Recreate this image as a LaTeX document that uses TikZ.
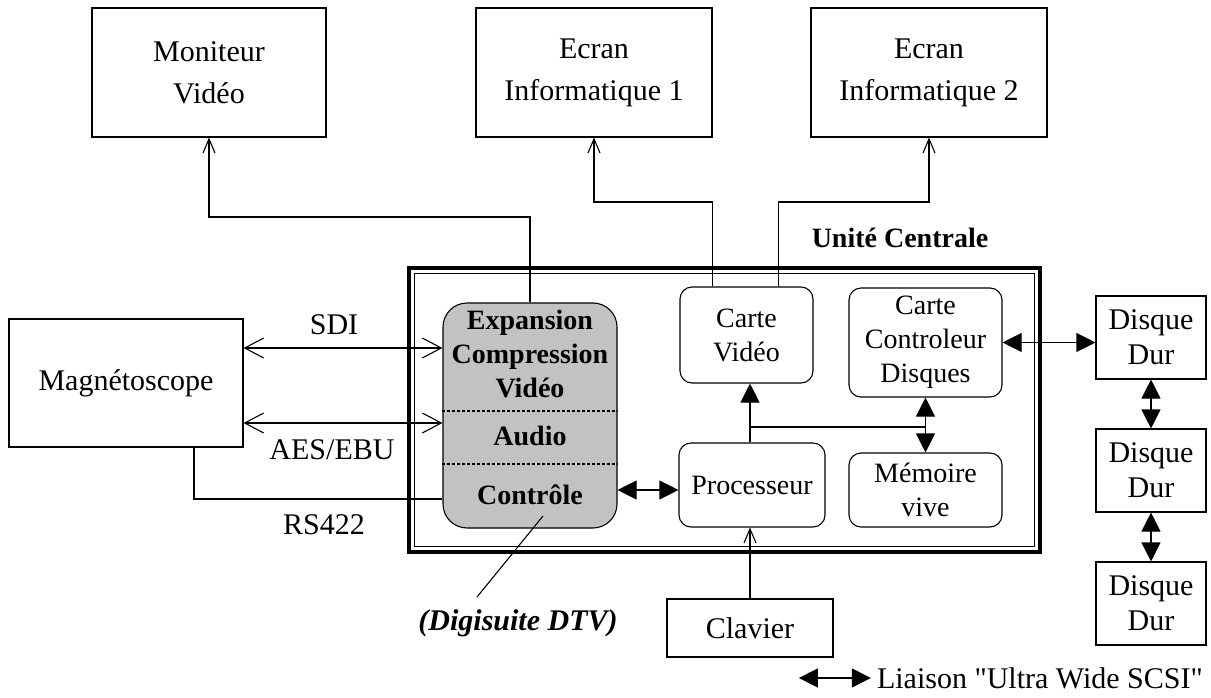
\documentclass[tikz,border=0pt]{standalone}
\usepackage{fontspec}
\setmainfont{Liberation Serif}
\newfontfamily\plainserif{Liberation Serif}
\usetikzlibrary{arrows.meta,calc}
\begin{document}
\begin{tikzpicture}[x=1pt,y=-1pt,
  every node/.style={font=\fontsize{30}{42}\selectfont, align=center, inner sep=0pt},
  box/.style={draw, line width=1.1pt},
  rbox/.style={draw, line width=1.1pt, rounded corners=12pt, font=\fontsize{28}{34}\selectfont},
  diskbox/.style={box, font=\fontsize{30}{35}\selectfont},
  wire/.style={line width=1.1pt},
  openhead/.style={wire, -{Straight Barb[length=14pt,width=12pt]}},
  openboth/.style={wire, {Straight Barb[length=19pt,width=20pt]}-{Straight Barb[length=19pt,width=20pt]}},
  fillhead/.style={wire, -{Triangle[length=19pt,width=19pt]}},
  fillboth/.style={wire, {Triangle[length=19pt,width=19pt]}-{Triangle[length=19pt,width=19pt]}},
  ucframe/.style={draw, line width=4.5pt},
  ucinner/.style={draw, line width=1.1pt},
  digi/.style={draw, line width=1.1pt, rounded corners=24pt, fill=black!24},
  digitext/.style={font=\fontsize{28}{34}\selectfont\bfseries}
]
\useasboundingbox (0,0) rectangle (1211,698);

% top row: displays
\node[box, minimum width=234pt, minimum height=129pt] (mon) at (209,72.5) {Moniteur\\Vidéo};
\node[box, minimum width=236pt, minimum height=129pt] (e1) at (594,72.5) {Ecran\\Informatique 1};
\node[box, minimum width=236pt, minimum height=129pt] (e2) at (929,72.5) {Ecran\\Informatique 2};

% video recorder
\node[box, minimum width=234pt, minimum height=128pt] (mag) at (126,383) {Magnétoscope};

% central unit frame (heavy outer line with a thin inner line) and its title
\node[ucframe, minimum width=631pt, minimum height=284pt] (uc) at (724.5,410) {};
\node[ucinner, minimum width=620pt, minimum height=273pt] (ucin) at (724.5,410) {};
\node[font=\fontsize{28}{34}\selectfont\bfseries] (uctitle) at (900,238) {Unité Centrale};

% Digisuite board with its three sections
\node[digi, minimum width=174pt, minimum height=225pt] (dig) at (530,415.5) {};
\draw[wire, dash pattern=on 3pt off 2pt] (dig.west |- 0,411) -- (dig.east |- 0,411);
\draw[wire, dash pattern=on 3pt off 2pt] (dig.west |- 0,464) -- (dig.east |- 0,464);
\node[digitext] (dvid) at (530,354) {Expansion\\Compression\\Vidéo};
\node[digitext] (daud) at (530,436) {Audio};
\node[digitext] (dctl) at (530,495) {Contrôle};

% boards inside the central unit
\node[rbox, minimum width=133pt, minimum height=96pt] (cv) at (746.5,335) {Carte\\Vidéo};
\node[rbox, minimum width=153pt, minimum height=109pt] (ctl) at (925.5,342.5) {Carte\\Controleur\\Disques};
\node[rbox, minimum width=146pt, minimum height=84pt] (proc) at (752,485) {Processeur};
\node[rbox, minimum width=153pt, minimum height=74pt] (mem) at (925.5,490) {Mémoire\\vive};

% disks
\node[diskbox, minimum width=110pt, minimum height=83pt] (d1) at (1151,337.5) {Disque\\Dur};
\node[diskbox, minimum width=110pt, minimum height=83pt] (d2) at (1151,470.5) {Disque\\Dur};
\node[diskbox, minimum width=110pt, minimum height=83pt] (d3) at (1151,603.5) {Disque\\Dur};

% keyboard
\node[box, minimum width=166pt, minimum height=58pt] (clav) at (750,628) {Clavier};

% link labels
\node (sdi) at (334,325) {SDI};
\node (aes) at (332,450) {AES/EBU};
\node (rs) at (324,525) {RS422};
\node[font=\fontsize{30}{36}\selectfont\bfseries\itshape] (dtv) at (518,623) {(Digisuite DTV)};

% helper coordinates
\coordinate (ySdi) at (0,348);
\coordinate (yAes) at (0,423);
\coordinate (yRs) at (0,499);
\coordinate (yCtl) at (0,490);
\coordinate (yMon) at (0,217);
\coordinate (yEcr) at (0,202);
\coordinate (bus) at (750,427);
\coordinate (cvB) at ($(cv.north east)+(-35,0)$);
\coordinate (callA) at (543,516);
\coordinate (callB) at (477,597);

% outputs to the displays
\draw[openhead] (dig.north) -- (dig.north |- yMon) -| (mon.south);
\draw[openhead] (cv.north -| e1.east) -- (e1.east |- yEcr) -| (e1.south);
\draw[openhead] (cvB) -- (cvB |- yEcr) -| (e2.south);

% links to the video recorder
\draw[openboth] (mag.east |- ySdi) -- (dig.west |- ySdi);
\draw[openboth] (mag.east |- yAes) -- (dig.west |- yAes);
\draw[wire] (mag.south -| 194,0) -- (194,499) -- (dig.west |- yRs);

% internal bus
\draw[fillboth] (dig.east |- yCtl) -- (proc.west |- yCtl);
\draw[fillhead] (proc.north -| bus) -- (cv.south -| bus);
\draw[wire] (bus) -- (bus -| ctl.south);
\draw[fillhead] (bus -| ctl.south) -- (ctl.south);
\draw[fillhead] (bus -| ctl.south) -- (mem.north);

% keyboard input
\draw[openhead] (clav.north) -- (clav.north |- proc.south);

% SCSI chain
\draw[fillboth] (ctl.east) -- (ctl.east -| d1.west);
\draw[fillboth] (d1.south) -- (d2.north);
\draw[fillboth] (d2.south) -- (d3.north);

% callout to the Digisuite board
\draw[wire] (callA) -- (callB);

% legend
\node[anchor=east, font=\fontsize{30}{36}\plainserif] (leg) at (1203,678) {Liaison "Ultra Wide SCSI"};
\coordinate (legA) at ($(leg.west)+(-78,0)$);
\coordinate (legB) at ($(leg.west)+(-6,0)$);
\draw[fillboth] (legA) -- (legB);
\end{tikzpicture}
\end{document}
